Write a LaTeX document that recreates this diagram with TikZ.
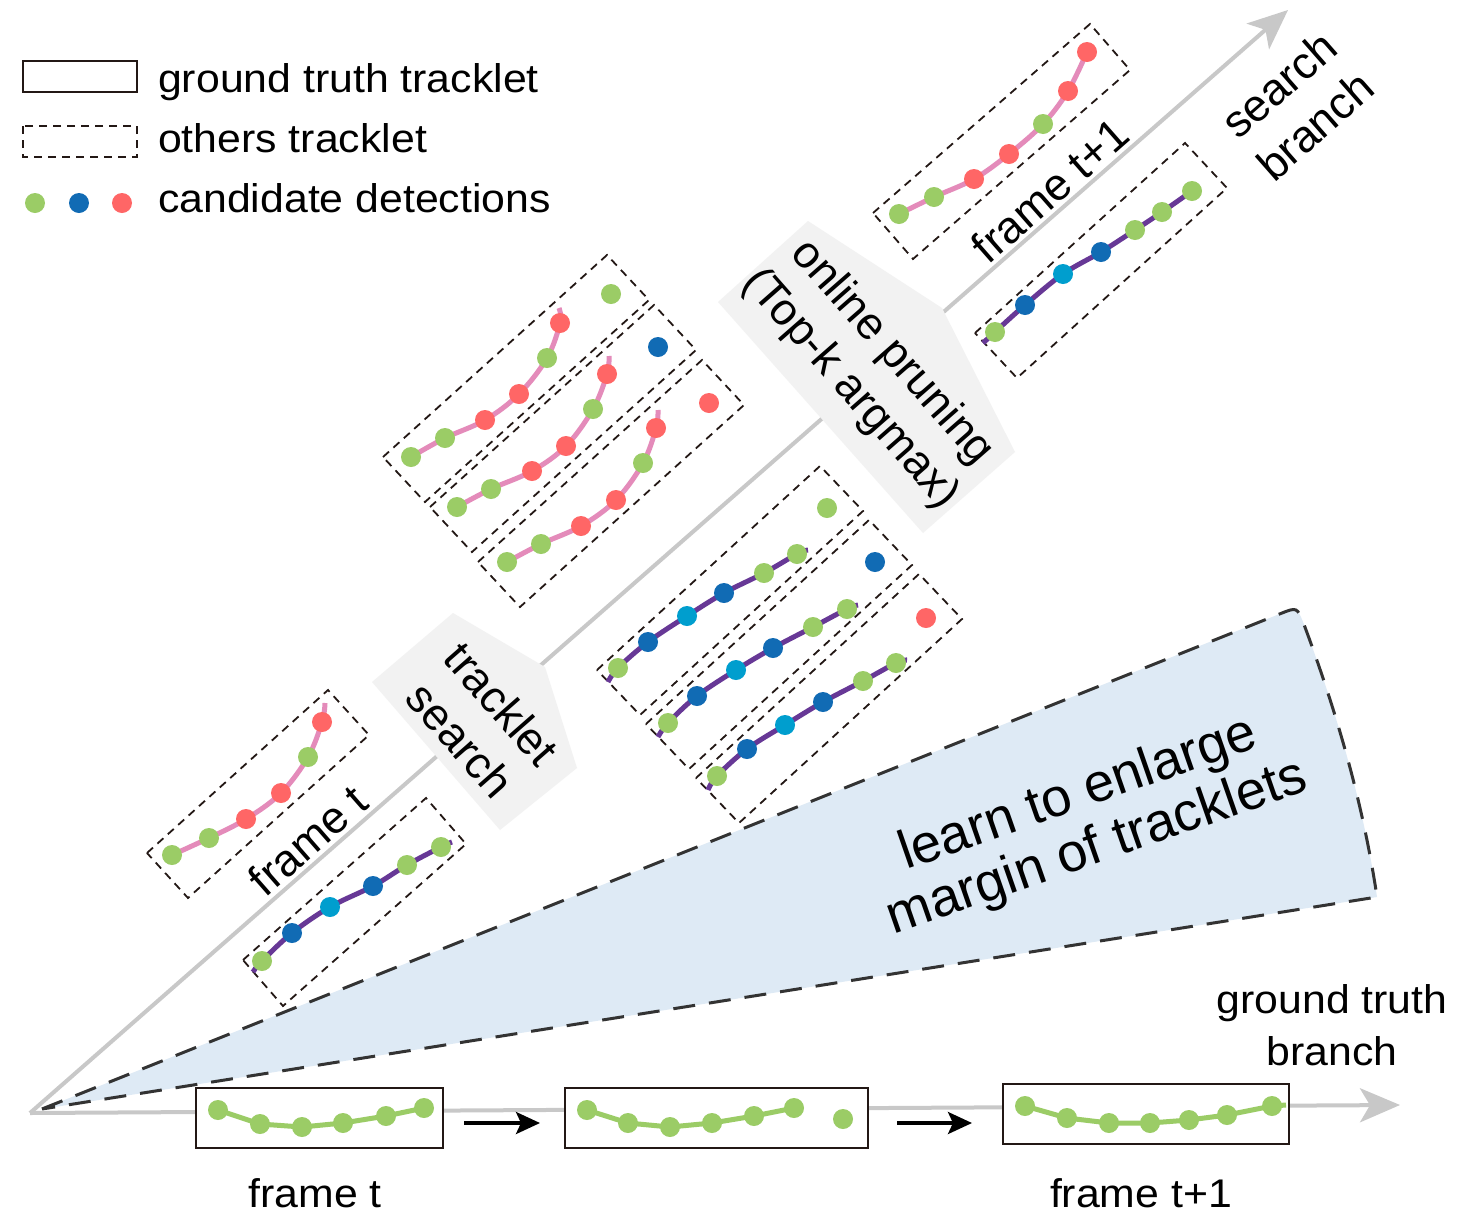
\documentclass[tikz,border=0pt]{standalone}
\usepackage{fontspec}
\setmainfont{Liberation Sans}
\newfontfamily\hfont[FakeStretch=1.07]{Liberation Sans}
\usetikzlibrary{arrows.meta}
\definecolor{cG}{RGB}{155,204,102}
\definecolor{cB}{RGB}{17,107,180}
\definecolor{cC}{RGB}{0,158,206}
\definecolor{cR}{RGB}{255,102,102}
\definecolor{lpink}{RGB}{228,139,186}
\definecolor{lpurple}{RGB}{103,56,150}
\definecolor{fanblue}{RGB}{222,234,245}
\definecolor{pgray}{RGB}{242,242,242}
\definecolor{lgray}{RGB}{200,200,200}
\definecolor{boxdark}{RGB}{35,24,21}
\definecolor{fandark}{RGB}{51,51,51}
\newcommand\tdots[1]{\foreach \cc/\px/\py in {#1} {\fill[\cc] (\px,\py) circle[radius=10pt];}}
\begin{document}
\begin{tikzpicture}[x=1pt,y=-1pt,
  gline/.style={draw=lgray, line width=4pt},
  garrow/.style={-{Stealth[length=40pt,width=34pt,inset=10pt]}},
  barrow/.style={draw=black, line width=3.5pt, -{Stealth[length=24pt,width=22pt,inset=5pt]}},
  tnode/.style={inner sep=0pt, align=center, font=\fontsize{45}{55}\selectfont},
  hnode/.style={inner sep=0pt, font=\hfont\fontsize{40}{48}\selectfont},
  dbox/.style={draw=boxdark, line width=1.8pt, dash pattern=on 8pt off 6pt},
  sbox/.style={draw=boxdark, line width=2pt, fill=white, inner sep=0pt},
  pinkl/.style={draw=lpink, line width=5pt},
  purpl/.style={draw=lpurple, line width=5pt},
  greenl/.style={draw=cG, line width=5pt},
  fandash/.style={draw=fandark, line width=3pt, dash pattern=on 22pt off 14pt},
  pent/.style={fill=pgray}
]
\path[use as bounding box, fill=white] (0,0) rectangle (1460,1232);

% fan
\path[fill=fanblue] (42,1109) -- (1280.3,613.7) .. controls (1297,607) .. (1303.7,623.7)
  .. controls (1334,705) and (1362.2,797.6) .. (1377,897) -- cycle;
\draw[fandash] (42,1109) -- (1280.3,613.7) .. controls (1297,607) .. (1303.7,623.7)
  .. controls (1334,705) and (1362.2,797.6) .. (1377,897) -- cycle;

% branch lines
\coordinate (O) at (30,1113);
\coordinate (S) at (1288,10);
\coordinate (G) at (1400,1105);
\draw[gline, garrow] (O) -- (S);
\draw[gline, garrow] (O) -- (G);

% gray pentagons
\fill[pent] (372,682) -- (453,613) -- (545,667) -- (577,768) -- (500,830) -- cycle;
\fill[pent] (718,302) -- (808,221) -- (942,308) -- (1015,452) -- (923,533) -- cycle;

% rotated labels
\node[tnode, rotate=-48.76] (ts) at (481,722) {tracklet\\search};
\node[tnode, rotate=-48.76] (op) at (871,371) {online pruning\\(Top-k argmax)};
\node[tnode, rotate=41.24] (ft) at (308,840) {frame t};
\node[tnode, rotate=41.24] (ft1) at (1050,190) {frame t+1};
\node[tnode, rotate=41.24] (sb) at (1297,105) {search\\branch};
\node[inner sep=0pt, align=center, rotate=19.2, font=\fontsize{54}{57}\selectfont] (learn) at (1088,822) {learn to enlarge\\margin of tracklets};

% frame t tracklets
\draw[dbox] (147,853) -- (328,690) -- (369,735) -- (188,898) -- cycle;
\draw[pinkl] plot[smooth, tension=0.6] coordinates {(172,855) (209,838) (246,819) (281,793) (308,757) (322,722) (325,703)};
\tdots{cG/172/855, cG/209/838, cR/246/819, cR/281/793, cG/308/757, cR/322/722}

\draw[dbox] (243,960) -- (426,798) -- (466,844) -- (283,1006) -- cycle;
\draw[purpl] plot[smooth, tension=0.6] coordinates {(253,972) (262,961) (292,933) (330,907) (373,886) (407,865) (441,847) (452,842)};
\tdots{cG/262/961, cB/292/933, cC/330/907, cB/373/886, cG/407/865, cG/441/847}

% frame t+1 tracklets
\draw[dbox] (873,213) -- (1090,24) -- (1130,70) -- (913,259) -- cycle;
\draw[pinkl] plot[smooth, tension=0.6] coordinates {(899,214) (934,197) (974,179) (1009,154) (1043,124) (1068,91) (1087,52)};
\tdots{cG/899/214, cG/934/197, cR/974/179, cR/1009/154, cG/1043/124, cR/1068/91, cR/1087/52}

\draw[dbox] (975,333) -- (1185,143) -- (1227,188) -- (1017,378) -- cycle;
\draw[purpl] plot[smooth, tension=0.6] coordinates {(983,343) (995,332) (1025,305) (1063,274) (1101,252) (1135,230) (1162,212) (1192,191)};
\tdots{cG/995/332, cB/1025/305, cC/1063/274, cB/1101/252, cG/1135/230, cG/1162/212, cG/1192/191}

% middle pink group
\draw[dbox] (383,457) -- (607,255) -- (649,300) -- (425,502) -- cycle;
\draw[dbox] (430,507) -- (654,305) -- (696,350) -- (472,552) -- cycle;
\draw[dbox] (478,562) -- (702,360) -- (744,405) -- (520,607) -- cycle;
\draw[pinkl] plot[smooth, tension=0.6] coordinates {(411,457) (445,438) (485,420) (519,394) (547,358) (560,323) (559,308)};
\draw[pinkl] plot[smooth, tension=0.6] coordinates {(457,507) (491,489) (532,471) (566,446) (593,409) (607,374) (609,356)};
\draw[pinkl] plot[smooth, tension=0.6] coordinates {(507,562) (541,544) (581,526) (616,500) (643,463) (656,428) (658,410)};
\tdots{cG/411/457, cG/445/438, cR/485/420, cR/519/394, cG/547/358, cR/560/323, cG/611/294}
\tdots{cG/457/507, cG/491/489, cR/532/471, cR/566/446, cG/593/409, cR/607/374, cB/658/347}
\tdots{cG/507/562, cG/541/544, cR/581/526, cR/616/500, cG/643/463, cR/656/428, cR/709/403}

% middle purple group
\draw[dbox] (597,670) -- (820,466) -- (863,511) -- (640,715) -- cycle;
\draw[dbox] (646,724) -- (869,520) -- (912,565) -- (689,769) -- cycle;
\draw[dbox] (696,778) -- (919,574) -- (962,619) -- (739,823) -- cycle;
\draw[purpl] plot[smooth, tension=0.6] coordinates {(608,682) (618,668) (648,642) (687,616) (724,593) (764,573) (797,554) (808,550)};
\draw[purpl] plot[smooth, tension=0.6] coordinates {(658,737) (668,723) (697,696) (736,670) (773,648) (813,627) (847,609) (858,605)};
\draw[purpl] plot[smooth, tension=0.6] coordinates {(708,790) (717,776) (747,749) (785,725) (823,702) (863,681) (896,663) (907,660)};
\tdots{cG/618/668, cB/648/642, cC/687/616, cB/724/593, cG/764/573, cG/797/554, cG/827/508}
\tdots{cG/668/723, cB/697/696, cC/736/670, cB/773/648, cG/813/627, cG/847/609, cB/875/562}
\tdots{cG/717/776, cB/747/749, cC/785/725, cB/823/702, cG/863/681, cG/896/663, cR/926/618}

% ground truth boxes
\node[sbox, minimum width=247pt, minimum height=60pt] (b1) at (319.5,1118) {};
\node[sbox, minimum width=303pt, minimum height=60pt] (b2) at (716.5,1118) {};
\node[sbox, minimum width=286pt, minimum height=60pt] (b3) at (1146,1114) {};
\draw[greenl] (218,1110) -- (260,1124) -- (302,1127) -- (343,1123) -- (386,1116) -- (424,1108);
\tdots{cG/218/1110, cG/260/1124, cG/302/1127, cG/343/1123, cG/386/1116, cG/424/1108}
\draw[greenl] (587,1110) -- (628,1123) -- (670,1127) -- (712,1123) -- (754,1116) -- (794,1108);
\tdots{cG/587/1110, cG/628/1123, cG/670/1127, cG/712/1123, cG/754/1116, cG/794/1108, cG/843/1119}
\draw[greenl] (1025,1106) -- (1067,1118) -- (1109,1123) -- (1150,1123) -- (1189,1120) -- (1227,1115) -- (1272,1106) -- (1286,1105);
\tdots{cG/1025/1106, cG/1067/1118, cG/1109/1123, cG/1150/1123, cG/1189/1120, cG/1227/1115, cG/1272/1106}

\coordinate (a1s) at (464,1123);
\coordinate (a1e) at (540,1123);
\coordinate (a2s) at (897,1123);
\coordinate (a2e) at (972,1123);
\draw[barrow] (a1s) -- (a1e);
\draw[barrow] (a2s) -- (a2e);

\node[hnode, anchor=base] (lft) at (315,1207) {frame t};
\node[hnode, anchor=base] (lft1) at (1141,1207) {frame t+1};
\node[hnode, anchor=base] (lgt1) at (1332,1013) {ground truth};
\node[hnode, anchor=base] (lgt2) at (1332,1065) {branch};

% legend
\draw[draw=boxdark, line width=2pt] (23,61) rectangle (137,92);
\draw[dbox] (23,126) rectangle (137,157);
\tdots{cG/35/203, cB/79/203, cR/122/203}
\node[hnode, anchor=base west] (leg1) at (158,92) {ground truth tracklet};
\node[hnode, anchor=base west] (leg2) at (158,152) {others tracklet};
\node[hnode, anchor=base west] (leg3) at (158,212) {candidate detections};
\end{tikzpicture}
\end{document}
